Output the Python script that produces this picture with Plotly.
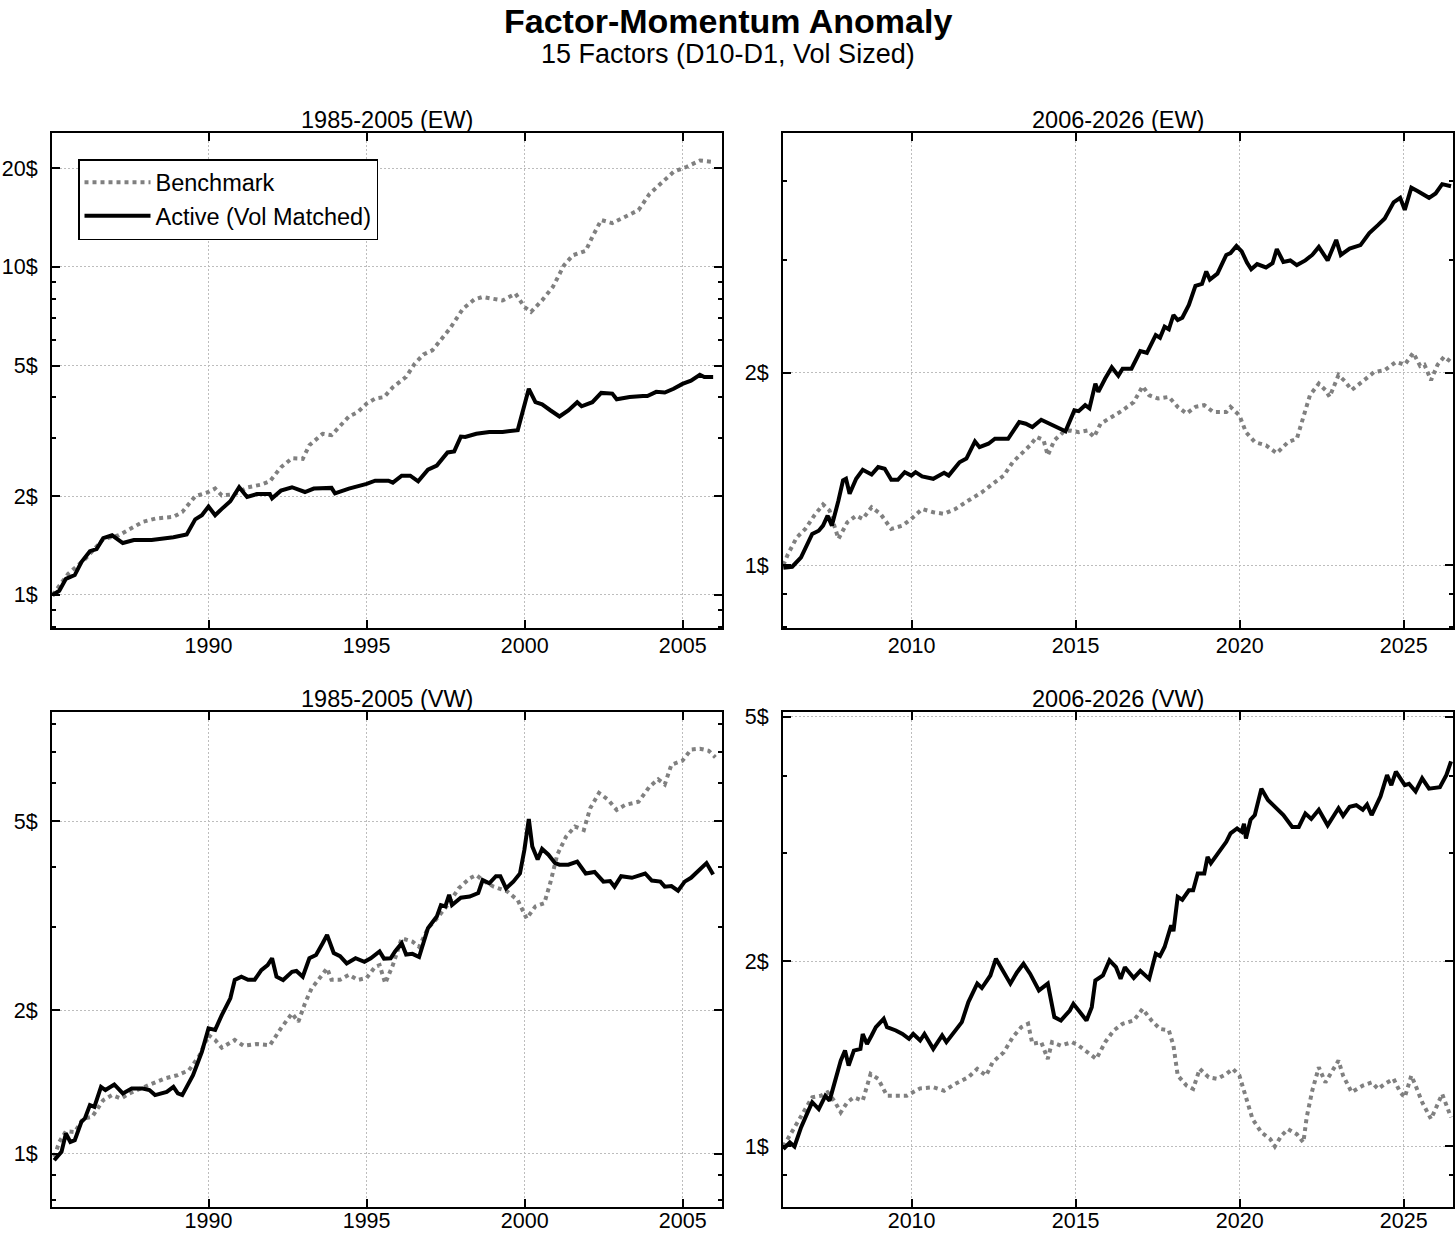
import math
import plotly.graph_objects as go

# ---------------- data (decimal years, growth of $1) ----------------
tl_act_x = [1985.07,1985.28,1985.49,1985.77,1985.98,1986.25,1986.46,1986.67,1986.95,1987.29,1987.64,1988.20,1988.89,1989.31,1989.58,1989.79,1990.00,1990.21,1990.42,1990.69,1990.97,1991.22,1991.53,1991.94,1992.01,1992.29,1992.64,1993.05,1993.33,1993.89,1994.00,1994.44,1995.00,1995.27,1995.69,1995.83,1996.11,1996.38,1996.63,1996.94,1997.22,1997.56,1997.77,1997.98,1998.12,1998.47,1998.88,1999.30,1999.78,1999.96,2000.13,2000.34,2000.55,2000.82,2001.10,2001.38,2001.66,2001.80,2002.14,2002.42,2002.77,2002.91,2003.32,2003.74,2003.88,2004.16,2004.43,2004.71,2004.99,2005.26,2005.54,2005.68,2005.96]
tl_act_y = [1.00,1.03,1.12,1.15,1.26,1.36,1.38,1.49,1.52,1.44,1.47,1.47,1.50,1.53,1.70,1.75,1.86,1.75,1.83,1.93,2.13,1.99,2.03,2.03,1.97,2.08,2.13,2.06,2.11,2.12,2.04,2.11,2.18,2.23,2.23,2.20,2.31,2.31,2.22,2.41,2.48,2.72,2.74,3.04,3.03,3.10,3.14,3.14,3.18,3.65,4.25,3.87,3.81,3.65,3.50,3.65,3.87,3.76,3.87,4.13,4.11,3.95,4.01,4.04,4.04,4.16,4.14,4.25,4.40,4.50,4.69,4.62,4.62]
tl_bm_x = [1985.07,1985.56,1986.11,1986.67,1987.16,1987.50,1987.92,1988.33,1988.89,1989.17,1989.58,1990.00,1990.21,1990.42,1990.83,1991.25,1991.67,1991.94,1992.29,1992.64,1992.98,1993.19,1993.61,1993.89,1994.16,1994.44,1994.72,1995.00,1995.27,1995.55,1995.83,1996.25,1996.52,1996.80,1997.08,1997.35,1997.63,1998.05,1998.40,1998.67,1999.02,1999.30,1999.71,1999.99,2000.20,2000.55,2000.89,2001.24,2001.52,2001.93,2002.14,2002.42,2002.77,2003.05,2003.60,2003.95,2004.29,2004.71,2005.13,2005.54,2005.96]
tl_bm_y = [1.00,1.16,1.29,1.48,1.52,1.59,1.67,1.71,1.73,1.79,2.00,2.06,2.11,2.01,2.03,2.13,2.17,2.22,2.45,2.61,2.60,2.86,3.10,3.07,3.29,3.50,3.61,3.83,3.97,4.01,4.30,4.62,5.07,5.41,5.57,5.97,6.48,7.46,7.95,8.10,8.00,7.90,8.29,7.55,7.29,7.91,8.69,10.1,10.85,11.2,12.35,13.9,13.6,14.0,14.9,16.7,17.9,19.5,20.2,21.1,20.9]

tr_act_x = [2006.09,2006.36,2006.63,2006.97,2007.17,2007.30,2007.44,2007.57,2007.77,2007.91,2008.00,2008.11,2008.31,2008.51,2008.78,2008.98,2009.18,2009.38,2009.58,2009.79,2009.99,2010.12,2010.32,2010.66,2010.99,2011.13,2011.46,2011.67,2011.93,2012.07,2012.34,2012.54,2012.94,2013.28,2013.48,2013.68,2013.95,2014.28,2014.69,2014.96,2015.09,2015.29,2015.42,2015.60,2015.69,2015.90,2016.10,2016.30,2016.43,2016.70,2016.97,2017.17,2017.44,2017.57,2017.71,2017.84,2017.98,2018.11,2018.25,2018.45,2018.65,2018.85,2018.98,2019.09,2019.32,2019.59,2019.72,2019.90,2020.06,2020.22,2020.35,2020.53,2020.80,2021.00,2021.13,2021.33,2021.54,2021.74,2022.00,2022.21,2022.41,2022.68,2022.94,2023.08,2023.35,2023.68,2023.95,2024.22,2024.42,2024.69,2024.89,2025.03,2025.23,2025.43,2025.56,2025.77,2025.97,2026.17,2026.44]
tr_act_y = [0.99,0.994,1.028,1.119,1.132,1.153,1.195,1.153,1.262,1.357,1.365,1.293,1.365,1.41,1.386,1.424,1.415,1.36,1.36,1.398,1.381,1.398,1.377,1.365,1.395,1.381,1.449,1.468,1.562,1.530,1.549,1.577,1.577,1.675,1.665,1.645,1.689,1.655,1.62,1.747,1.742,1.78,1.76,1.924,1.868,1.96,2.04,1.98,2.03,2.03,2.163,2.15,2.292,2.27,2.362,2.34,2.464,2.42,2.44,2.556,2.737,2.756,2.883,2.80,2.86,3.06,3.08,3.16,3.10,2.977,2.906,2.96,2.925,2.97,3.125,2.984,3.0,2.95,3.0,3.06,3.15,3.0,3.23,3.06,3.13,3.17,3.31,3.41,3.49,3.70,3.76,3.60,3.90,3.85,3.82,3.76,3.82,3.95,3.92]
tr_bm_x = [2006.09,2006.23,2006.50,2006.76,2007.03,2007.30,2007.50,2007.77,2008.04,2008.31,2008.51,2008.78,2009.05,2009.38,2009.72,2009.99,2010.32,2010.66,2010.99,2011.33,2011.73,2012.14,2012.47,2012.81,2013.08,2013.34,2013.61,2013.81,2014.02,2014.15,2014.35,2014.62,2014.82,2015.09,2015.36,2015.56,2015.76,2016.10,2016.43,2016.77,2017.04,2017.24,2017.51,2017.84,2018.11,2018.38,2018.65,2018.92,2019.19,2019.59,2019.72,2019.99,2020.19,2020.46,2020.80,2021.13,2021.47,2021.74,2021.94,2022.14,2022.41,2022.61,2022.74,2023.01,2023.21,2023.41,2023.75,2024.09,2024.42,2024.76,2025.03,2025.29,2025.50,2025.63,2025.83,2026.03,2026.23,2026.44]
tr_bm_y = [1.0,1.04,1.105,1.139,1.195,1.244,1.217,1.099,1.167,1.195,1.181,1.232,1.203,1.139,1.153,1.181,1.224,1.21,1.203,1.224,1.262,1.30,1.34,1.381,1.449,1.493,1.54,1.587,1.57,1.485,1.568,1.615,1.625,1.615,1.625,1.587,1.665,1.706,1.747,1.80,1.906,1.845,1.823,1.834,1.769,1.727,1.769,1.78,1.737,1.737,1.769,1.716,1.615,1.558,1.54,1.497,1.558,1.577,1.716,1.845,1.924,1.88,1.834,1.984,1.94,1.88,1.94,2.005,2.02,2.08,2.06,2.15,2.05,2.06,1.947,2.06,2.12,2.08]

bl_act_x = [1985.12,1985.35,1985.49,1985.63,1985.77,1985.98,1986.09,1986.25,1986.39,1986.60,1986.74,1987.02,1987.29,1987.57,1987.92,1988.13,1988.31,1988.68,1988.89,1989.03,1989.17,1989.51,1989.65,1989.79,1990.00,1990.21,1990.42,1990.69,1990.83,1991.04,1991.25,1991.46,1991.67,1991.87,1992.01,1992.15,1992.36,1992.64,1992.78,1992.98,1993.19,1993.40,1993.61,1993.75,1993.96,1994.16,1994.37,1994.65,1994.93,1995.13,1995.41,1995.55,1995.76,1995.90,1996.11,1996.25,1996.45,1996.66,1996.94,1997.22,1997.35,1997.49,1997.61,1997.70,1997.98,1998.26,1998.53,1998.67,1998.88,1999.09,1999.23,1999.41,1999.64,1999.85,1999.99,2000.13,2000.24,2000.41,2000.55,2000.75,2000.96,2001.10,2001.38,2001.66,2001.93,2002.21,2002.49,2002.70,2002.84,2003.05,2003.39,2003.81,2004.02,2004.29,2004.43,2004.64,2004.85,2005.06,2005.26,2005.47,2005.75,2005.96]
bl_act_y = [0.968,1.008,1.102,1.058,1.067,1.166,1.185,1.264,1.254,1.381,1.36,1.397,1.338,1.37,1.37,1.36,1.327,1.348,1.381,1.338,1.327,1.462,1.547,1.637,1.833,1.82,1.955,2.12,2.317,2.354,2.32,2.32,2.43,2.49,2.574,2.354,2.317,2.41,2.42,2.354,2.574,2.616,2.768,2.882,2.64,2.60,2.51,2.574,2.53,2.574,2.66,2.57,2.574,2.66,2.768,2.62,2.63,2.59,2.977,3.15,3.33,3.31,3.50,3.33,3.45,3.47,3.53,3.76,3.70,3.83,3.83,3.61,3.73,3.88,4.35,5.05,4.42,4.15,4.37,4.25,4.08,4.05,4.05,4.11,3.88,3.91,3.73,3.74,3.64,3.83,3.80,3.88,3.75,3.73,3.64,3.65,3.57,3.73,3.80,3.91,4.08,3.86]
bl_bm_x = [1985.12,1985.28,1985.49,1985.77,1986.04,1986.32,1986.67,1986.95,1987.23,1987.50,1987.85,1988.20,1988.61,1989.03,1989.38,1989.72,1990.00,1990.21,1990.42,1990.83,1991.11,1991.53,1991.94,1992.08,1992.29,1992.64,1992.84,1993.05,1993.26,1993.47,1993.75,1993.89,1994.16,1994.44,1994.72,1995.00,1995.27,1995.41,1995.59,1995.83,1996.11,1996.45,1996.66,1996.94,1997.22,1997.56,1997.91,1998.26,1998.47,1998.74,1999.02,1999.44,1999.78,2000.06,2000.34,2000.62,2000.82,2001.03,2001.31,2001.59,2001.87,2002.07,2002.35,2002.63,2002.91,2003.18,2003.60,2003.95,2004.22,2004.43,2004.64,2004.99,2005.26,2005.54,2005.82,2006.03]
bl_bm_y = [0.984,1.058,1.114,1.11,1.185,1.195,1.295,1.327,1.305,1.338,1.37,1.404,1.438,1.462,1.497,1.61,1.775,1.733,1.669,1.733,1.685,1.70,1.69,1.745,1.833,1.971,1.892,2.069,2.225,2.317,2.452,2.32,2.32,2.376,2.317,2.34,2.47,2.49,2.28,2.49,2.835,2.79,2.72,2.977,3.12,3.33,3.61,3.79,3.85,3.73,3.64,3.56,3.41,3.12,3.31,3.36,3.73,4.25,4.64,4.87,4.79,5.32,5.73,5.55,5.28,5.41,5.49,5.91,6.12,5.97,6.57,6.70,7.07,7.10,7.03,6.81]

br_act_x = [2006.09,2006.29,2006.43,2006.63,2006.83,2006.97,2007.17,2007.37,2007.50,2007.70,2007.84,2007.97,2008.08,2008.24,2008.44,2008.51,2008.64,2008.78,2008.91,2009.15,2009.25,2009.52,2009.72,2009.92,2010.05,2010.26,2010.39,2010.66,2010.93,2011.06,2011.33,2011.53,2011.73,2012.00,2012.14,2012.40,2012.57,2012.81,2013.01,2013.21,2013.41,2013.61,2013.88,2014.15,2014.35,2014.55,2014.82,2014.93,2015.09,2015.33,2015.49,2015.60,2015.83,2016.03,2016.23,2016.37,2016.50,2016.77,2016.97,2017.24,2017.44,2017.57,2017.71,2017.91,2017.98,2018.11,2018.25,2018.45,2018.58,2018.72,2018.92,2019.02,2019.12,2019.39,2019.59,2019.72,2019.92,2020.06,2020.13,2020.19,2020.33,2020.46,2020.66,2020.86,2021.07,2021.33,2021.60,2021.80,2022.00,2022.18,2022.41,2022.68,2023.01,2023.15,2023.35,2023.55,2023.75,2023.88,2024.02,2024.29,2024.49,2024.62,2024.76,2025.03,2025.16,2025.36,2025.56,2025.77,2026.10,2026.30,2026.44]
br_act_y = [0.99,1.015,1.0,1.074,1.136,1.18,1.15,1.209,1.187,1.288,1.379,1.432,1.354,1.432,1.441,1.524,1.468,1.515,1.563,1.613,1.563,1.544,1.524,1.496,1.524,1.487,1.524,1.441,1.515,1.478,1.544,1.593,1.717,1.84,1.81,1.897,2.02,1.919,1.84,1.919,1.982,1.91,1.794,1.84,1.623,1.603,1.664,1.706,1.664,1.603,1.685,1.862,1.897,2.008,1.957,1.873,1.957,1.88,1.93,1.873,2.058,2.04,2.111,2.29,2.24,2.547,2.52,2.61,2.61,2.78,2.78,2.958,2.89,3.03,3.13,3.23,3.29,3.25,3.35,3.17,3.40,3.46,3.82,3.66,3.57,3.46,3.31,3.31,3.48,3.41,3.53,3.33,3.55,3.45,3.57,3.59,3.53,3.60,3.46,3.71,4.02,3.87,4.07,3.87,3.89,3.78,3.97,3.82,3.84,4.02,4.23]
br_bm_x = [2006.09,2006.29,2006.50,2006.70,2006.97,2007.23,2007.44,2007.64,2007.84,2008.04,2008.24,2008.51,2008.75,2008.98,2009.25,2009.52,2009.85,2010.26,2010.66,2010.99,2011.33,2011.73,2012.00,2012.27,2012.47,2012.81,2013.08,2013.34,2013.55,2013.68,2013.95,2014.15,2014.28,2014.55,2014.89,2015.09,2015.36,2015.63,2015.90,2016.16,2016.43,2016.77,2017.04,2017.31,2017.57,2017.84,2017.98,2018.11,2018.38,2018.58,2018.78,2019.05,2019.32,2019.59,2019.79,2019.99,2020.19,2020.39,2020.66,2020.93,2021.07,2021.27,2021.47,2021.74,2021.94,2022.04,2022.21,2022.41,2022.61,2022.81,2023.01,2023.15,2023.41,2023.75,2024.02,2024.22,2024.42,2024.69,2024.89,2025.03,2025.23,2025.36,2025.56,2025.83,2026.03,2026.17,2026.44]
br_bm_y = [1.0,1.041,1.087,1.136,1.202,1.209,1.225,1.187,1.136,1.18,1.202,1.187,1.312,1.288,1.209,1.209,1.209,1.243,1.248,1.232,1.264,1.296,1.337,1.304,1.371,1.423,1.505,1.563,1.583,1.469,1.478,1.388,1.478,1.459,1.478,1.459,1.423,1.388,1.478,1.544,1.583,1.603,1.674,1.603,1.553,1.544,1.459,1.304,1.256,1.240,1.337,1.296,1.288,1.312,1.337,1.304,1.202,1.108,1.054,1.028,1.0,1.041,1.067,1.047,1.015,1.115,1.232,1.345,1.271,1.32,1.379,1.304,1.225,1.256,1.271,1.24,1.264,1.288,1.225,1.202,1.304,1.256,1.18,1.108,1.172,1.217,1.115]

panel_titles = ["1985-2005 (EW)", "2006-2026 (EW)", "1985-2005 (VW)", "2006-2026 (VW)"]
series_names = ["Benchmark", "Active (Vol Matched)"]
early_years = [1990, 1995, 2000, 2005]
late_years = [2010, 2015, 2020, 2025]
ytick_sets = [[1, 2, 5, 10, 20], [1, 2], [1, 2, 5], [1, 2, 5]]
minor_vals = [0.8, 0.9, 3, 4, 6, 7, 8, 9, 30, 40]

# ---------------- figure ----------------
W, H = 1456, 1235
FONT = "Liberation Sans, Arial, Helvetica, sans-serif"


def px_x(p):
    return p / W


def px_y(p):
    return 1 - p / H


dom_x = [[px_x(52), px_x(722)], [px_x(783), px_x(1453)]]
dom_y_top = [px_y(628), px_y(133)]
dom_y_bot = [px_y(1207), px_y(712)]

panels = [
    dict(bm=(tl_bm_x, tl_bm_y), act=(tl_act_x, tl_act_y), xr=[1985.05, 2006.24], yr=[0.793, 25.6],
         xd=dom_x[0], yd=dom_y_top, xt=early_years, xstand=-3),
    dict(bm=(tr_bm_x, tr_bm_y), act=(tr_act_x, tr_act_y), xr=[2006.08, 2026.5], yr=[0.797, 4.75],
         xd=dom_x[1], yd=dom_y_top, xt=late_years, xstand=-3),
    dict(bm=(bl_bm_x, bl_bm_y), act=(bl_act_x, bl_act_y), xr=[1985.05, 2006.24], yr=[0.772, 8.48],
         xd=dom_x[0], yd=dom_y_bot, xt=early_years, xstand=-7),
    dict(bm=(br_bm_x, br_bm_y), act=(br_act_x, br_act_y), xr=[2006.08, 2026.5], yr=[0.797, 5.09],
         xd=dom_x[1], yd=dom_y_bot, xt=late_years, xstand=-7),
]

fig = go.Figure()

for i, p in enumerate(panels):
    sfx = "" if i == 0 else str(i + 1)
    fig.add_trace(go.Scatter(
        x=p["bm"][0], y=p["bm"][1], mode="lines", name=series_names[0],
        line=dict(color="#808080", width=4, dash="dot"),
        xaxis="x" + sfx, yaxis="y" + sfx, showlegend=(i == 0), legendrank=1))
    fig.add_trace(go.Scatter(
        x=p["act"][0], y=p["act"][1], mode="lines", name=series_names[1],
        line=dict(color="black", width=4),
        xaxis="x" + sfx, yaxis="y" + sfx, showlegend=(i == 0), legendrank=2))

    common = dict(showline=True, linecolor="black", linewidth=2, mirror="allticks",
                  ticks="inside", ticklen=8, tickwidth=2, tickcolor="black",
                  showgrid=True, gridcolor="#bdbdbd", gridwidth=1.2, griddash="1.5px,2.5px",
                  zeroline=False, automargin=False,
                  tickfont=dict(family=FONT, size=21.5, color="black"))
    xa = dict(common, domain=p["xd"], range=p["xr"], tickmode="array", tickvals=p["xt"],
              ticktext=[str(v) for v in p["xt"]], anchor="y" + sfx, ticklabelstandoff=p["xstand"])
    yv = ytick_sets[i]
    ya = dict(common, type="log", domain=p["yd"],
              range=[math.log10(p["yr"][0]), math.log10(p["yr"][1])],
              tickmode="array", tickvals=yv, ticktext=[f"{v}$" for v in yv],
              anchor="x" + sfx, ticklabelstandoff=8,
              minor=dict(tickmode="array", tickvals=minor_vals, ticks="inside", ticklen=4,
                         tickwidth=2, tickcolor="black", showgrid=False))
    fig.update_layout(**{"xaxis" + sfx: xa, "yaxis" + sfx: ya})

annotations = []
title_y = [120, 120, 699, 699]
for i, t in enumerate(panel_titles):
    xd = panels[i]["xd"]
    annotations.append(dict(text=t, x=(xd[0] + xd[1]) / 2, y=px_y(title_y[i]), xref="paper", yref="paper",
                            xanchor="center", yanchor="middle", showarrow=False,
                            font=dict(family=FONT, size=23.5, color="black")))
annotations.append(dict(text="<b>Factor-Momentum Anomaly</b>", x=0.5, y=1.0, xref="paper", yref="paper",
                        xanchor="center", yanchor="top", showarrow=False,
                        font=dict(family=FONT, size=34, color="black")))
annotations.append(dict(text="15 Factors (D10-D1, Vol Sized)", x=0.5, y=px_y(54), xref="paper", yref="paper",
                        xanchor="center", yanchor="middle", showarrow=False,
                        font=dict(family=FONT, size=27, color="black")))

fig.update_layout(
    width=W, height=H,
    margin=dict(l=0, r=0, t=0, b=0),
    paper_bgcolor="white", plot_bgcolor="white",
    font=dict(family=FONT, color="black"),
    annotations=annotations,
    showlegend=True,
    legend=dict(x=px_x(78), y=px_y(159), xanchor="left", yanchor="top",
                bgcolor="white", bordercolor="black", borderwidth=1.5,
                font=dict(family=FONT, size=23.5, color="black"),
                tracegroupgap=0, itemwidth=66, traceorder="normal"),
)

fig.write_html("out.html", config={"displayModeBar": False},
               post_script="document.body.style.margin='0px';document.body.style.overflow='hidden';")
